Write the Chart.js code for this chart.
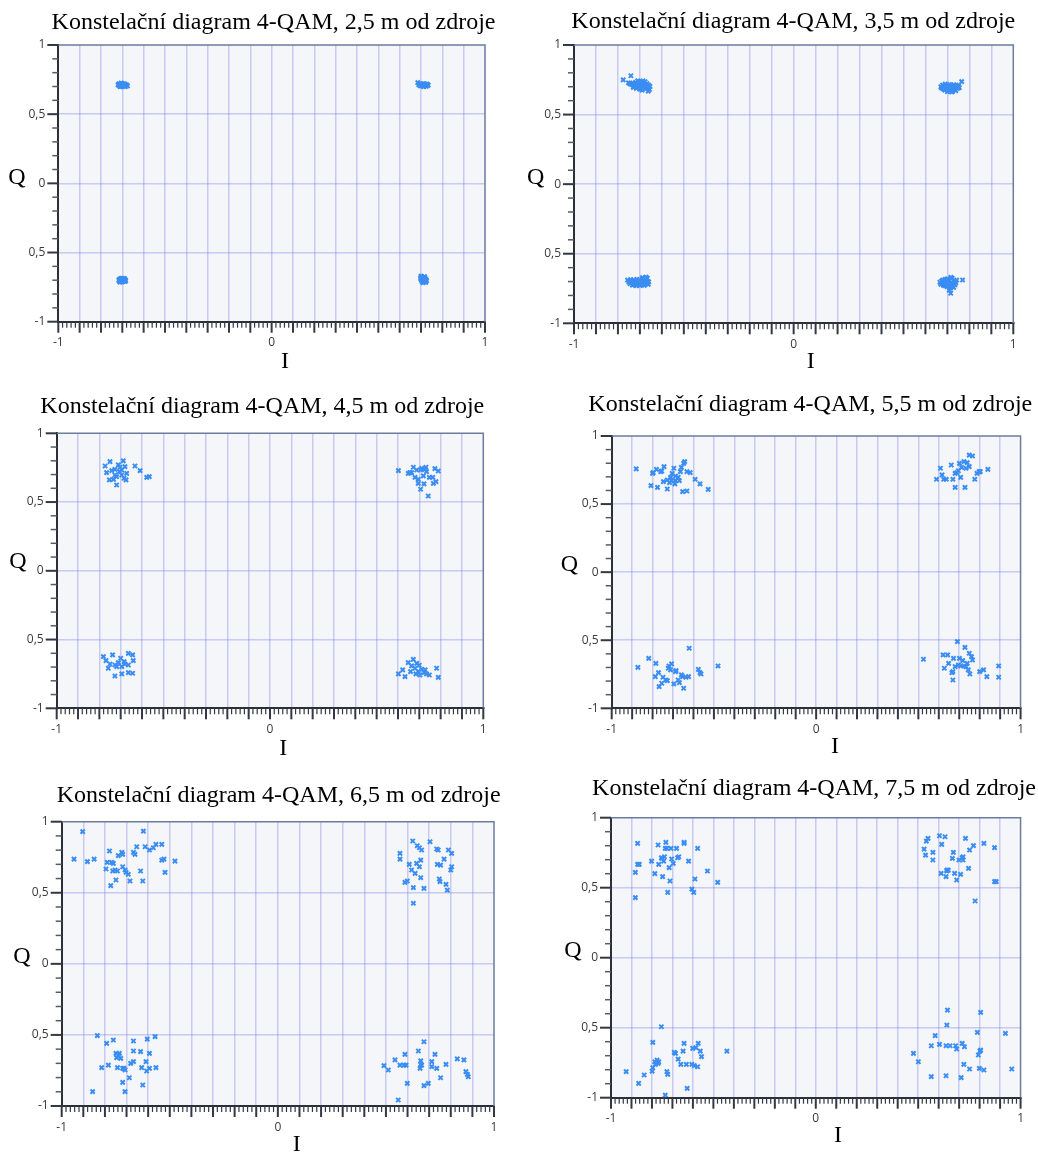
<!DOCTYPE html>
<html><head><meta charset="utf-8">
<script src="https://cdn.jsdelivr.net/npm/chart.js@4.4.0/dist/chart.umd.min.js"></script>
<style>
html,body{margin:0;padding:0;background:#ffffff;}
#wrap{position:relative;width:1038px;height:1153px;overflow:hidden;}
#wrap canvas{position:absolute;}
</style></head><body><div id="wrap"></div>
<script>
// ---------------- DATA ----------------
const titles = [
  'Konstelační diagram 4-QAM, 2,5 m od zdroje',
  'Konstelační diagram 4-QAM, 3,5 m od zdroje',
  'Konstelační diagram 4-QAM, 4,5 m od zdroje',
  'Konstelační diagram 4-QAM, 5,5 m od zdroje',
  'Konstelační diagram 4-QAM, 6,5 m od zdroje',
  'Konstelační diagram 4-QAM, 7,5 m od zdroje'
];
const axisNameI = 'I';
const axisNameQ = 'Q';
const xTickValues = [-1, 0, 1];
const xTickLabels = ['-1', '0', '1'];
const yTickValues = [-1, -0.5, 0, 0.5, 1];
const yTickLabels = ['-1', '-0,5', '0', '0,5', '1'];

// [I, Q] samples for each distance
const iq_2_5m = [
  [-0.72,0.712],[-0.716,0.72],[-0.712,0.704],[-0.708,0.716],[-0.704,0.70],[-0.70,0.722],[-0.696,0.71],[-0.692,0.704],[-0.688,0.716],[-0.684,0.708],
  [-0.68,0.712],[-0.676,0.705],[-0.70,0.706],[-0.71,0.698],[-0.69,0.72],[-0.714,0.709],[-0.698,0.715],[-0.686,0.698],[-0.706,0.724],[-0.694,0.713],
  [0.69,0.712],[0.694,0.72],[0.698,0.704],[0.702,0.716],[0.706,0.708],[0.71,0.72],[0.714,0.703],[0.718,0.714],[0.722,0.708],[0.726,0.715],
  [0.73,0.706],[0.734,0.711],[0.708,0.712],[0.716,0.72],[0.70,0.707],[0.724,0.702],[0.685,0.728],[0.712,0.699],[0.696,0.714],[0.728,0.718],
  [-0.716,-0.70],[-0.712,-0.692],[-0.708,-0.708],[-0.704,-0.696],[-0.70,-0.704],[-0.696,-0.69],[-0.692,-0.70],[-0.688,-0.694],[-0.684,-0.702],
  [-0.70,-0.712],[-0.71,-0.714],[-0.694,-0.708],[-0.706,-0.688],[-0.69,-0.688],[-0.714,-0.708],[-0.698,-0.696],[-0.686,-0.708],[-0.702,-0.686],
  [0.70,-0.67],[0.704,-0.676],[0.708,-0.684],[0.712,-0.692],[0.716,-0.70],[0.72,-0.708],[0.724,-0.696],[0.706,-0.712],[0.702,-0.70],[0.71,-0.718],
  [0.714,-0.688],[0.718,-0.68],[0.722,-0.716],[0.698,-0.688],[0.726,-0.704],[0.708,-0.696],[0.716,-0.674],[0.712,-0.706],[0.70,-0.68],[0.72,-0.69]
];
const iq_3_5m = [
  [-0.776,0.749],[-0.741,0.779],[-0.752,0.728],[-0.745,0.722],[-0.738,0.716],[-0.732,0.726],[-0.728,0.706],[-0.724,0.72],[-0.72,0.732],[-0.716,0.712],
  [-0.712,0.698],[-0.708,0.724],[-0.704,0.736],[-0.70,0.71],[-0.696,0.69],[-0.692,0.72],[-0.688,0.73],[-0.684,0.704],[-0.68,0.716],[-0.676,0.736],
  [-0.672,0.70],[-0.668,0.722],[-0.664,0.69],[-0.66,0.712],[-0.656,0.68],[-0.654,0.702],[-0.70,0.682],[-0.716,0.688],[-0.73,0.696],[-0.69,0.676],
  [-0.676,0.684],[-0.662,0.668],[-0.72,0.708],[-0.71,0.742],[-0.686,0.742],
  [0.67,0.70],[0.674,0.69],[0.678,0.712],[0.682,0.684],[0.686,0.704],[0.69,0.72],[0.694,0.695],[0.698,0.68],[0.702,0.71],[0.706,0.69],
  [0.71,0.672],[0.714,0.705],[0.718,0.685],[0.722,0.666],[0.726,0.70],[0.73,0.68],[0.734,0.692],[0.738,0.672],[0.742,0.70],[0.746,0.688],
  [0.75,0.706],[0.754,0.694],[0.765,0.737],[0.70,0.664],[0.72,0.662],[0.688,0.676],[0.68,0.696],[0.71,0.716],[0.73,0.714],[0.74,0.712],
  [-0.756,-0.69],[-0.75,-0.704],[-0.744,-0.716],[-0.738,-0.698],[-0.734,-0.726],[-0.73,-0.708],[-0.726,-0.69],[-0.722,-0.714],[-0.718,-0.70],[-0.714,-0.684],
  [-0.71,-0.72],[-0.706,-0.706],[-0.702,-0.692],[-0.698,-0.714],[-0.694,-0.70],[-0.69,-0.684],[-0.686,-0.718],[-0.682,-0.706],[-0.678,-0.692],[-0.674,-0.71],
  [-0.67,-0.698],[-0.666,-0.676],[-0.662,-0.72],[-0.66,-0.702],[-0.672,-0.668],[-0.742,-0.686],[-0.728,-0.72],[-0.716,-0.73],[-0.70,-0.728],[-0.688,-0.672],
  [-0.68,-0.728],[-0.71,-0.696],
  [0.666,-0.705],[0.67,-0.72],[0.674,-0.695],[0.678,-0.712],[0.682,-0.728],[0.686,-0.70],[0.69,-0.684],[0.694,-0.716],[0.698,-0.736],[0.702,-0.704],
  [0.706,-0.69],[0.71,-0.72],[0.714,-0.748],[0.718,-0.706],[0.722,-0.676],[0.726,-0.714],[0.73,-0.696],[0.734,-0.724],[0.738,-0.71],[0.742,-0.69],
  [0.769,-0.689],[0.715,-0.784],[0.708,-0.762],[0.70,-0.68],[0.716,-0.67],[0.728,-0.742],[0.69,-0.73],[0.72,-0.728],[0.68,-0.69],[0.704,-0.724]
];
const iq_4_5m = [
  [-0.773,0.762],[-0.75,0.794],[-0.766,0.714],[-0.727,0.738],[-0.711,0.77],[-0.688,0.799],[-0.695,0.733],[-0.68,0.758],[-0.672,0.709],[-0.719,0.685],
  [-0.734,0.665],[-0.753,0.661],[-0.727,0.697],[-0.706,0.721],[-0.684,0.673],[-0.719,0.624],[-0.675,0.661],[-0.633,0.762],[-0.609,0.728],[-0.578,0.68],
  [-0.566,0.685],[-0.703,0.753],[-0.742,0.728],[-0.695,0.697],
  [0.602,0.728],[0.648,0.709],[0.672,0.753],[0.664,0.714],[0.688,0.733],[0.711,0.745],[0.727,0.738],[0.734,0.721],[0.719,0.69],[0.695,0.665],
  [0.695,0.636],[0.706,0.593],[0.722,0.632],[0.747,0.68],[0.763,0.68],[0.773,0.743],[0.789,0.726],[0.766,0.636],[0.778,0.648],[0.742,0.544],
  [0.68,0.68],[0.656,0.714],[0.706,0.733],[0.731,0.753],
  [-0.781,-0.624],[-0.769,-0.653],[-0.75,-0.678],[-0.738,-0.612],[-0.727,-0.685],[-0.711,-0.668],[-0.70,-0.636],[-0.695,-0.697],[-0.684,-0.661],[-0.664,-0.60],
  [-0.644,-0.612],[-0.641,-0.653],[-0.664,-0.685],[-0.644,-0.745],[-0.664,-0.741],[-0.727,-0.765],[-0.695,-0.75],[-0.758,-0.709],[-0.719,-0.697],[-0.68,-0.678],
  [0.602,-0.75],[0.633,-0.77],[0.622,-0.721],[0.648,-0.668],[0.664,-0.692],[0.672,-0.644],[0.68,-0.709],[0.688,-0.673],[0.695,-0.733],[0.703,-0.758],
  [0.711,-0.716],[0.722,-0.741],[0.734,-0.75],[0.747,-0.758],[0.727,-0.721],[0.781,-0.709],[0.789,-0.775],[0.659,-0.733],[0.70,-0.687],[0.684,-0.75]
];
const iq_5_5m = [
  [-0.88,0.758],[-0.80,0.726],[-0.797,0.731],[-0.781,0.755],[-0.76,0.738],[-0.744,0.775],[-0.755,0.743],[-0.808,0.635],[-0.776,0.623],[-0.728,0.611],
  [-0.747,0.665],[-0.728,0.677],[-0.717,0.657],[-0.712,0.696],[-0.704,0.726],[-0.696,0.763],[-0.688,0.706],[-0.688,0.672],[-0.675,0.696],[-0.669,0.672],
  [-0.664,0.738],[-0.659,0.77],[-0.648,0.799],[-0.643,0.812],[-0.653,0.591],[-0.632,0.596],[-0.632,0.738],[-0.616,0.731],[-0.592,0.682],[-0.568,0.648],
  [-0.528,0.608],[-0.691,0.648],[-0.707,0.67],
  [0.589,0.682],[0.608,0.763],[0.616,0.714],[0.624,0.682],[0.637,0.682],[0.661,0.787],[0.669,0.682],[0.68,0.726],[0.68,0.623],[0.696,0.745],
  [0.701,0.799],[0.707,0.696],[0.712,0.77],[0.723,0.812],[0.728,0.623],[0.733,0.763],[0.739,0.804],[0.749,0.775],[0.749,0.86],[0.765,0.853],
  [0.776,0.682],[0.787,0.726],[0.797,0.738],[0.803,0.738],[0.84,0.755],[0.688,0.731],
  [-0.872,-0.699],[-0.819,-0.633],[-0.784,-0.67],[-0.787,-0.767],[-0.771,-0.738],[-0.768,-0.841],[-0.755,-0.816],[-0.749,-0.772],[-0.736,-0.792],[-0.728,-0.797],
  [-0.723,-0.706],[-0.72,-0.689],[-0.712,-0.718],[-0.707,-0.674],[-0.696,-0.821],[-0.688,-0.731],[-0.685,-0.723],[-0.675,-0.792],[-0.669,-0.811],[-0.659,-0.755],
  [-0.653,-0.767],[-0.648,-0.853],[-0.637,-0.772],[-0.624,-0.767],[-0.621,-0.559],[-0.576,-0.714],[-0.563,-0.748],[-0.568,-0.738],[-0.48,-0.689],
  [0.525,-0.64],[0.621,-0.608],[0.643,-0.608],[0.627,-0.706],[0.648,-0.67],[0.664,-0.738],[0.669,-0.792],[0.672,-0.633],[0.68,-0.694],[0.691,-0.51],
  [0.701,-0.633],[0.707,-0.689],[0.717,-0.65],[0.723,-0.689],[0.728,-0.552],[0.733,-0.694],[0.739,-0.67],[0.744,-0.718],[0.749,-0.596],[0.752,-0.748],
  [0.76,-0.621],[0.765,-0.645],[0.80,-0.731],[0.819,-0.718],[0.835,-0.767],[0.893,-0.689],[0.893,-0.772],[0.696,-0.682],[0.669,-0.731]
];
const iq_6_5m = [
  [-0.943,0.737],[-0.903,0.93],[-0.881,0.719],[-0.85,0.737],[-0.795,0.667],[-0.789,0.714],[-0.779,0.794],[-0.773,0.55],[-0.769,0.714],[-0.764,0.653],
  [-0.753,0.66],[-0.749,0.59],[-0.738,0.761],[-0.742,0.653],[-0.722,0.784],[-0.718,0.77],[-0.718,0.683],[-0.707,0.66],[-0.702,0.644],[-0.692,0.63],
  [-0.684,0.583],[-0.668,0.784],[-0.661,0.77],[-0.653,0.824],[-0.635,0.653],[-0.625,0.583],[-0.622,0.934],[-0.614,0.824],[-0.594,0.801],[-0.576,0.817],
  [-0.564,0.841],[-0.537,0.841],[-0.537,0.73],[-0.527,0.737],[-0.522,0.644],[-0.476,0.723],[-0.761,0.707],
  [0.565,0.777],[0.565,0.737],[0.588,0.573],[0.599,0.583],[0.608,0.70],[0.619,0.66],[0.624,0.864],[0.627,0.536],[0.627,0.426],[0.635,0.637],
  [0.642,0.707],[0.645,0.831],[0.655,0.817],[0.661,0.73],[0.661,0.606],[0.665,0.801],[0.676,0.531],[0.704,0.859],[0.735,0.808],[0.738,0.70],
  [0.747,0.597],[0.75,0.578],[0.753,0.695],[0.769,0.737],[0.778,0.559],[0.784,0.519],[0.789,0.801],[0.80,0.66],[0.804,0.777],[0.804,0.683],
  [0.655,0.683],[0.742,0.801],
  [-0.857,-0.899],[-0.835,-0.505],[-0.815,-0.73],[-0.792,-0.559],[-0.784,-0.712],[-0.761,-0.536],[-0.749,-0.63],[-0.746,-0.66],[-0.742,-0.73],[-0.733,-0.63],
  [-0.727,-0.665],[-0.718,-0.735],[-0.718,-0.834],[-0.707,-0.747],[-0.707,-0.899],[-0.687,-0.801],[-0.681,-0.70],[-0.668,-0.688],[-0.668,-0.613],[-0.668,-0.543],
  [-0.635,-0.618],[-0.63,-0.73],[-0.625,-0.852],[-0.61,-0.688],[-0.607,-0.754],[-0.604,-0.529],[-0.594,-0.735],[-0.594,-0.63],[-0.568,-0.512],[-0.564,-0.73],
  [-0.738,-0.646],[-0.712,-0.735],
  [0.491,-0.716],[0.511,-0.747],[0.542,-0.676],[0.557,-0.958],[0.565,-0.712],[0.584,-0.712],[0.588,-0.637],[0.593,-0.712],[0.599,-0.841],[0.65,-0.613],
  [0.658,-0.735],[0.661,-0.683],[0.665,-0.712],[0.676,-0.548],[0.676,-0.857],[0.696,-0.841],[0.712,-0.688],[0.712,-0.723],[0.727,-0.637],[0.735,-0.735],
  [0.753,-0.801],[0.778,-0.707],[0.83,-0.669],[0.861,-0.676],[0.87,-0.758],[0.877,-0.777],[0.881,-0.794],[0.661,-0.707]
];
const iq_7_5m = [
  [-0.881,0.429],[-0.881,0.61],[-0.87,0.817],[-0.87,0.667],[-0.862,0.667],[-0.802,0.69],[-0.786,0.60],[-0.77,0.805],[-0.767,0.667],[-0.751,0.71],
  [-0.748,0.579],[-0.743,0.69],[-0.739,0.721],[-0.732,0.824],[-0.727,0.781],[-0.723,0.467],[-0.716,0.643],[-0.712,0.548],[-0.707,0.781],[-0.704,0.705],
  [-0.696,0.674],[-0.68,0.781],[-0.675,0.714],[-0.669,0.721],[-0.643,0.817],[-0.643,0.824],[-0.621,0.69],[-0.605,0.49],[-0.596,0.467],[-0.59,0.562],
  [-0.577,0.781],[-0.529,0.619],[-0.479,0.538],[-0.735,0.781],[-0.754,0.714],
  [0.529,0.776],[0.536,0.733],[0.54,0.833],[0.548,0.852],[0.572,0.752],[0.572,0.698],[0.604,0.871],[0.612,0.602],[0.615,0.81],[0.631,0.864],
  [0.636,0.579],[0.64,0.619],[0.647,0.626],[0.667,0.71],[0.672,0.752],[0.678,0.602],[0.688,0.555],[0.699,0.698],[0.707,0.595],[0.715,0.714],
  [0.719,0.721],[0.731,0.852],[0.746,0.638],[0.751,0.769],[0.77,0.80],[0.778,0.405],[0.821,0.817],[0.873,0.786],[0.873,0.543],[0.881,0.543],
  [0.719,0.698],[0.64,0.626],
  [-0.926,-0.814],[-0.865,-0.898],[-0.838,-0.838],[-0.799,-0.81],[-0.796,-0.786],[-0.796,-0.605],[-0.786,-0.743],[-0.775,-0.731],[-0.77,-0.755],[-0.767,-0.743],
  [-0.754,-0.493],[-0.735,-0.981],[-0.727,-0.814],[-0.723,-0.833],[-0.691,-0.676],[-0.685,-0.683],[-0.672,-0.724],[-0.659,-0.762],[-0.648,-0.667],[-0.643,-0.612],
  [-0.632,-0.762],[-0.628,-0.933],[-0.605,-0.762],[-0.601,-0.648],[-0.593,-0.771],[-0.585,-0.643],[-0.577,-0.779],[-0.574,-0.612],[-0.564,-0.667],[-0.558,-0.707],
  [-0.434,-0.667],[-0.783,-0.762],
  [0.477,-0.683],[0.501,-0.743],[0.564,-0.85],[0.583,-0.557],[0.564,-0.629],[0.604,-0.619],[0.636,-0.629],[0.636,-0.843],[0.64,-0.481],[0.643,-0.374],
  [0.656,-0.629],[0.683,-0.629],[0.688,-0.652],[0.71,-0.857],[0.715,-0.612],[0.723,-0.762],[0.726,-0.636],[0.751,-0.795],[0.789,-0.533],[0.794,-0.695],
  [0.799,-0.79],[0.802,-0.667],[0.805,-0.66],[0.805,-0.39],[0.821,-0.802],[0.926,-0.54],[0.957,-0.795]
];
const panelData = [iq_2_5m, iq_3_5m, iq_4_5m, iq_5_5m, iq_6_5m, iq_7_5m];

// ---------------- LAYOUT (page pixels) ----------------
const layout = [
  {canvas:[0,0,520,385],     plot:[58.3,45,485,321.7],     title:[273.5,29.3], q:[17,183.5],   i:[285,368]},
  {canvas:[520,0,518,385],   plot:[574,45,1013.3,323.3],   title:[793.3,27.7], q:[535.7,183.5],i:[810.7,368]},
  {canvas:[0,385,520,385],   plot:[56.7,433.3,483.3,708.3],title:[262.3,412.7],q:[18,567.5],   i:[283.3,755]},
  {canvas:[520,385,518,385], plot:[611.7,436,1028.3,708.3],title:[810.3,411],  q:[569.5,571],  i:[835,753]},
  {canvas:[0,770,520,383],   plot:[61.7,821.7,494,1106],   title:[278.7,801.7],q:[22,963],     i:[296.7,1150.5]},
  {canvas:[520,770,518,383], plot:[611,817.7,1031.7,1097.7],title:[814,795],   q:[573,957],    i:[838,1141.5]}
];
const YW = 30, XH = 30;
const SERIF = '"Liberation Serif","Times New Roman",serif';
const SANS = '"Open Sans","Noto Sans",sans-serif';
const GRID = 'rgba(120,125,225,0.36)';

function near(a, b) { return Math.abs(a - b) < 1e-6; }
function labelFor(values, labels, v) {
  for (let k = 0; k < values.length; k++) if (near(values[k], v)) return labels[k];
  return '';
}

const decor = {
  id: 'decor',
  beforeDraw(chart) {
    const a = chart.chartArea, ctx = chart.ctx;
    ctx.save();
    ctx.fillStyle = '#f4f6fa';
    ctx.fillRect(a.left, a.top, a.right - a.left, a.bottom - a.top);
    ctx.restore();
  },
  afterDraw(chart) {
    const o = chart.options.plugins.decor;
    const a = chart.chartArea, ctx = chart.ctx;
    const xs = chart.scales.x, ys = chart.scales.y;
    ctx.save();
    // top/right frame
    ctx.strokeStyle = '#6c7c9c';
    ctx.lineWidth = 1.5;
    ctx.beginPath();
    ctx.moveTo(a.left, a.top); ctx.lineTo(a.right, a.top); ctx.lineTo(a.right, a.bottom);
    ctx.stroke();
    // x tick marks (major every 0.1, minor every 0.02)
    ctx.strokeStyle = '#333844';
    for (let k = -50; k <= 50; k++) {
      const px = xs.getPixelForValue(k / 50);
      const major = k % 5 === 0;
      ctx.lineWidth = major ? 2 : 1.2;
      ctx.beginPath();
      ctx.moveTo(px, a.bottom);
      ctx.lineTo(px, a.bottom + (major ? 11 : 6));
      ctx.stroke();
    }
    // y tick marks (major every 0.5, minor every 0.1)
    for (let k = -10; k <= 10; k++) {
      const py = ys.getPixelForValue(k / 10);
      const major = k % 5 === 0;
      ctx.lineWidth = major ? 2 : 1.5;
      ctx.strokeStyle = major ? '#333844' : '#555a66';
      ctx.beginPath();
      ctx.moveTo(a.left, py);
      ctx.lineTo(a.left - (major ? 11 : 6), py);
      ctx.stroke();
    }
    // titles and axis names
    ctx.fillStyle = '#000';
    ctx.textAlign = 'center';
    ctx.textBaseline = 'alphabetic';
    ctx.font = '24px ' + SERIF;
    ctx.fillText(o.title, o.titlePos[0], o.titlePos[1]);
    ctx.fillText(axisNameQ, o.qPos[0], o.qPos[1]);
    ctx.fillText(axisNameI, o.iPos[0], o.iPos[1]);
    ctx.restore();
  }
};

const wrap = document.getElementById('wrap');
layout.forEach((L, idx) => {
  const [cx, cy, cw, ch] = L.canvas;
  const [pl, pt, pr, pb] = L.plot;
  const cv = document.createElement('canvas');
  cv.width = cw; cv.height = ch;
  cv.style.left = cx + 'px'; cv.style.top = cy + 'px';
  cv.style.width = cw + 'px'; cv.style.height = ch + 'px';
  wrap.appendChild(cv);
  const pad = {
    left: pl - cx - YW,
    top: pt - cy,
    right: cx + cw - pr,
    bottom: cy + ch - pb - XH
  };
  new Chart(cv.getContext('2d'), {
    type: 'scatter',
    data: {
      datasets: [{
        data: panelData[idx].map(p => ({x: p[0], y: p[1]})),
        pointStyle: 'crossRot',
        pointRadius: 3,
        pointBorderWidth: 2,
        borderColor: '#3a8df2',
        backgroundColor: '#3a8df2'
      }]
    },
    options: {
      responsive: false,
      animation: false,
      devicePixelRatio: 1,
      layout: {padding: pad},
      plugins: {
        legend: {display: false},
        title: {display: false},
        tooltip: {enabled: false},
        decor: {
          title: titles[idx],
          titlePos: [L.title[0] - cx, L.title[1] - cy],
          qPos: [L.q[0] - cx, L.q[1] - cy],
          iPos: [L.i[0] - cx, L.i[1] - cy]
        }
      },
      scales: {
        x: {
          type: 'linear', min: -1, max: 1,
          afterFit(s) { s.height = XH; },
          ticks: {
            stepSize: 0.1, autoSkip: false, maxRotation: 0, padding: 14,
            font: {family: SANS, size: 12}, color: '#3a3a3a',
            callback: v => labelFor(xTickValues, xTickLabels, v)
          },
          grid: {
            drawTicks: false, lineWidth: 1.5,
            color: c => (c.tick && (near(c.tick.value, -1) || near(c.tick.value, 1))) ? 'rgba(0,0,0,0)' : GRID
          },
          border: {display: true, color: '#2b2f38', width: 2}
        },
        y: {
          type: 'linear', min: -1, max: 1,
          afterFit(s) { s.width = YW; },
          ticks: {
            stepSize: 0.5, padding: 13,
            font: {family: SANS, size: 12}, color: '#3a3a3a',
            callback: v => labelFor(yTickValues, yTickLabels, v)
          },
          grid: {
            drawTicks: false, lineWidth: 1.5,
            color: c => (c.tick && (near(c.tick.value, -1) || near(c.tick.value, 1))) ? 'rgba(0,0,0,0)' : GRID
          },
          border: {display: true, color: '#2b2f38', width: 2}
        }
      }
    },
    plugins: [decor]
  });
});
</script>
</body></html>
